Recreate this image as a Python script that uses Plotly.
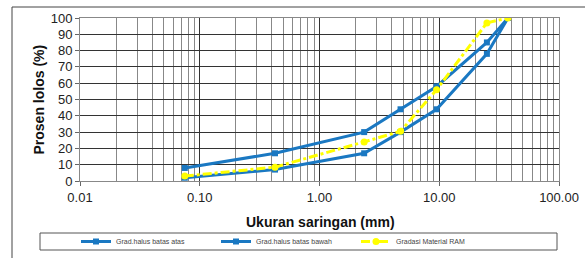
import plotly.graph_objects as go

sieve_mm = [0.075, 0.425, 2.36, 4.75, 9.5, 25.0, 37.5]
upper_limit = [8, 17, 30, 44, 58, 85, 100]
lower_limit = [2, 7, 17, 30, 44, 78, 100]
ram_gradation = [3, 8.5, 24, 30.5, 56, 97, 100]

x_tickvals = [0.01, 0.1, 1, 10, 100]
x_ticktext = ["0.01", "0.10", "1.00", "10.00", "100.00"]
y_tickvals = list(range(0, 101, 10))

series_names = ["Grad.halus batas atas", "Grad.halus batas bawah", "Gradasi Material RAM"]

BLUE = "#1a78c2"
YELLOW = "#ffff00"
FONT = "Liberation Sans, Arial, sans-serif"

fig = go.Figure()
fig.add_trace(go.Scatter(x=sieve_mm, y=upper_limit, name=series_names[0], mode="lines+markers",
                         line=dict(color=BLUE, width=3), marker=dict(symbol="square", size=6, color=BLUE)))
fig.add_trace(go.Scatter(x=sieve_mm, y=lower_limit, name=series_names[1], mode="lines+markers",
                         line=dict(color=BLUE, width=3), marker=dict(symbol="square", size=6, color=BLUE)))
fig.add_trace(go.Scatter(x=sieve_mm, y=ram_gradation, name=series_names[2], mode="lines+markers",
                         line=dict(color=YELLOW, width=3, dash="dashdot"),
                         marker=dict(symbol="circle", size=7, color=YELLOW)))

W, H = 585, 258
L, R, T, B = 80, 26, 18, 77
PW, PH = W - L - R, H - T - B

def px(x):
    return (x - L) / PW

def py(y):
    return (H - B - y) / PH

fig.update_layout(
    width=W, height=H,
    margin=dict(l=L, r=R, t=T, b=B, autoexpand=False),
    paper_bgcolor="white", plot_bgcolor="white",
    font=dict(family=FONT, color="#222", size=13),
    showlegend=True,
    legend=dict(orientation="h", x=px(76), xanchor="left", y=py(241.5), yanchor="middle",
                font=dict(size=7, color="#444"), bgcolor="rgba(0,0,0,0)", borderwidth=0,
                entrywidth=95, entrywidthmode="pixels", itemwidth=30),
    xaxis=dict(type="log", range=[-2, 2], tickvals=x_tickvals, ticktext=x_ticktext,
               showgrid=True, gridcolor="#333", gridwidth=1,
               minor=dict(dtick="D1", showgrid=True, gridcolor="#888", gridwidth=1, ticks=""),
               ticks="outside", ticklen=4, tickcolor="#666",
               showline=True, linecolor="#888", linewidth=1, mirror=True,
               tickfont=dict(size=13, color="#222"), zeroline=False, automargin=False),
    yaxis=dict(range=[0, 100], tickvals=y_tickvals, showgrid=True, gridcolor="#333", gridwidth=1,
               ticks="outside", ticklen=4, tickcolor="#666",
               showline=True, linecolor="#888", linewidth=1, mirror=True,
               tickfont=dict(size=13, color="#222"), zeroline=False, automargin=False),
    annotations=[
        dict(text="<b>Prosen lolos (%)</b>", xref="paper", yref="paper", x=px(38), y=0.5,
             textangle=-90, showarrow=False, font=dict(size=14, color="#111"),
             xanchor="center", yanchor="middle"),
        dict(text="<b>Ukuran saringan (mm)</b>", xref="paper", yref="paper", x=px(320), y=py(222),
             showarrow=False, font=dict(size=14, color="#111"), xanchor="center", yanchor="middle"),
    ],
    shapes=[
        dict(type="rect", xref="paper", yref="paper", x0=px(40), x1=px(557), y0=py(233), y1=py(250),
             line=dict(color="#555", width=1), fillcolor="rgba(0,0,0,0)", layer="below"),
        dict(type="line", xref="paper", yref="paper", x0=px(12), x1=px(585), y0=py(7), y1=py(7),
             line=dict(color="#444", width=1)),
        dict(type="line", xref="paper", yref="paper", x0=px(12), x1=px(12), y0=py(7), y1=py(258),
             line=dict(color="#444", width=1)),
    ],
)

fig.write_html("out.html", config={"displayModeBar": False},
               post_script="document.body.style.margin='0';document.body.style.overflow='hidden';")
